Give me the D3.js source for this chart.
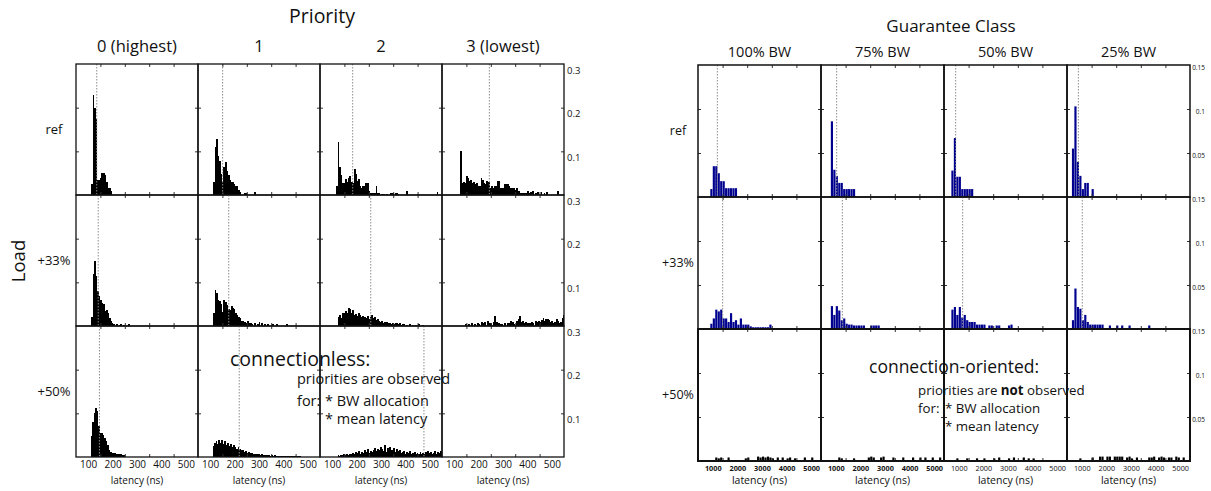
<!DOCTYPE html>
<html><head><meta charset="utf-8">
<script src="https://cdn.jsdelivr.net/npm/d3@7"></script>
<style>body{margin:0;background:#fff}svg{display:block;font-family:"Open Sans",sans-serif}</style>
</head><body><svg id="c" width="1211" height="491"></svg>
<script>
// ---------- labels ----------
const priorityLabels = ["0 (highest)", "1", "2", "3 (lowest)"];
const classLabels = ["100% BW", "75% BW", "50% BW", "25% BW"];
const loadLabels = ["ref", "+33%", "+50%"];
const latencyTicksCL = [100, 200, 300, 400, 500];
const minorTicksCL = [150, 250, 350, 450];
const yTicksCL = [0.1, 0.2, 0.3];
const latencyTicksCO = [1000, 2000, 3000, 4000, 5000];
const minorTicksCO = [1400, 2400, 3400, 4400];
const yTicksCO = [0.05, 0.1, 0.15];

// ---------- connectionless histograms: [bin start (ns), fraction], bin = 6 ns ----------
const cl_ref_p0 = [[112,0.025],[118,0.23],[124,0.2],[130,0.175],[136,0.035],[142,0.035],[148,0.04],[154,0.05],[160,0.05],[166,0.045],[172,0.03],[178,0.016],[184,0.016],[190,0.01]];
const cl_ref_p1 = [[112,0.03],[118,0.11],[124,0.128],[130,0.09],[136,0.078],[142,0.048],[148,0.03],[154,0.065],[160,0.075],[166,0.055],[172,0.045],[178,0.035],[184,0.03],[190,0.03],[196,0.025],[202,0.02],[208,0.02],[214,0.012],[220,0.008],[238,0.005],[244,0.005],[280,0.008]];
const cl_ref_p2 = [[116,0.02],[122,0.122],[128,0.065],[134,0.045],[140,0.028],[146,0.028],[152,0.036],[158,0.03],[164,0.04],[170,0.044],[176,0.03],[182,0.028],[188,0.059],[194,0.048],[200,0.032],[206,0.036],[212,0.021],[218,0.015],[224,0.021],[230,0.021],[236,0.028],[242,0.028],[248,0.009],[254,0.005],[260,0.005],[266,0.004],[272,0.005],[278,0.021],[284,0.005],[290,0.005],[302,0.003],[308,0.003],[320,0.003],[338,0.005],[344,0.004],[356,0.005],[362,0.005],[368,0.003],[404,0.009],[446,0.003],[528,0.007]];
const cl_ref_p3 = [[124,0.1],[130,0.028],[136,0.03],[142,0.028],[148,0.044],[154,0.04],[160,0.032],[166,0.035],[172,0.028],[178,0.03],[184,0.025],[190,0.028],[196,0.021],[202,0.02],[208,0.04],[214,0.035],[220,0.028],[226,0.025],[232,0.032],[238,0.03],[244,0.017],[250,0.02],[256,0.017],[262,0.021],[268,0.02],[274,0.032],[280,0.032],[286,0.017],[292,0.017],[298,0.015],[304,0.025],[310,0.025],[316,0.025],[322,0.02],[328,0.017],[334,0.015],[340,0.017],[346,0.012],[352,0.017],[358,0.009],[364,0.009],[370,0.005],[376,0.004],[382,0.005],[390,0.004],[400,0.009],[406,0.004],[412,0.006],[418,0.009],[430,0.005],[440,0.007],[454,0.007],[466,0.005],[478,0.007],[520,0.009]];
const cl_33_p0 = [[112,0.021],[118,0.118],[124,0.148],[130,0.114],[136,0.08],[142,0.068],[148,0.06],[154,0.053],[160,0.05],[166,0.035],[172,0.037],[178,0.03],[184,0.018],[190,0.012],[196,0.006],[202,0.004],[214,0.004],[226,0.003],[232,0.005],[244,0.003],[262,0.004]];
const cl_33_p1 = [[112,0.03],[118,0.083],[124,0.075],[130,0.06],[136,0.058],[142,0.05],[148,0.033],[154,0.06],[160,0.055],[166,0.048],[172,0.04],[178,0.036],[184,0.045],[190,0.042],[196,0.04],[202,0.03],[208,0.025],[214,0.02],[220,0.018],[226,0.012],[232,0.011],[238,0.01],[244,0.008],[250,0.011],[256,0.006],[262,0.008],[268,0.004],[280,0.007],[292,0.005],[298,0.009],[310,0.006],[322,0.004],[334,0.005],[352,0.004],[370,0.005],[412,0.005]];
const cl_33_p2 = [[122,0.021],[128,0.025],[134,0.018],[140,0.03],[146,0.029],[152,0.035],[158,0.03],[164,0.041],[170,0.038],[176,0.03],[182,0.036],[188,0.025],[194,0.028],[200,0.022],[206,0.029],[212,0.026],[218,0.02],[224,0.024],[230,0.02],[236,0.018],[242,0.022],[248,0.016],[254,0.02],[260,0.025],[266,0.018],[272,0.02],[278,0.013],[284,0.016],[290,0.012],[296,0.01],[302,0.012],[308,0.008],[314,0.01],[320,0.009],[326,0.007],[332,0.008],[338,0.005],[344,0.006],[350,0.004],[356,0.008],[362,0.006],[368,0.005],[374,0.007],[380,0.003],[386,0.004],[392,0.005],[404,0.003],[416,0.004],[428,0.002],[440,0.003],[452,0.004],[470,0.003]];
const cl_33_p3 = [[144,0.005],[156,0.004],[168,0.006],[180,0.005],[192,0.008],[198,0.005],[210,0.009],[216,0.006],[222,0.01],[234,0.012],[240,0.006],[246,0.008],[258,0.01],[264,0.024],[270,0.01],[276,0.008],[282,0.006],[288,0.004],[294,0.005],[306,0.006],[318,0.008],[324,0.006],[330,0.012],[336,0.01],[342,0.005],[354,0.012],[360,0.015],[366,0.024],[372,0.01],[378,0.012],[384,0.006],[390,0.01],[396,0.008],[402,0.006],[408,0.008],[414,0.01],[420,0.008],[432,0.012],[438,0.009],[444,0.012],[450,0.01],[456,0.014],[462,0.018],[468,0.012],[474,0.016],[480,0.015],[486,0.014],[492,0.01],[498,0.012],[504,0.008],[510,0.01],[516,0.015],[522,0.012],[528,0.008],[534,0.01],[540,0.018],[546,0.025]];
const cl_50_p0 = [[110,0.047],[116,0.08],[122,0.1],[128,0.112],[134,0.105],[140,0.07],[146,0.056],[152,0.055],[158,0.05],[164,0.044],[170,0.036],[176,0.028],[182,0.016],[188,0.012],[194,0.01],[200,0.01],[206,0.01],[212,0.008],[218,0.006],[224,0.006],[230,0.006],[236,0.005],[242,0.005]];
const cl_50_p1 = [[110,0.025],[116,0.032],[122,0.036],[128,0.03],[134,0.04],[140,0.033],[146,0.038],[152,0.03],[158,0.036],[164,0.028],[170,0.032],[176,0.026],[182,0.03],[188,0.024],[194,0.028],[200,0.022],[206,0.018],[212,0.024],[218,0.018],[224,0.016],[230,0.015],[236,0.012],[242,0.014],[248,0.01],[254,0.012],[260,0.009],[266,0.01],[272,0.008],[278,0.007],[284,0.008],[290,0.006],[296,0.007],[302,0.005],[308,0.006],[314,0.005],[320,0.005],[326,0.004],[332,0.005],[338,0.004],[344,0.003],[350,0.004],[356,0.003],[362,0.004],[368,0.003],[374,0.003],[380,0.002],[386,0.003],[392,0.002],[398,0.003],[404,0.002],[410,0.003],[416,0.002],[422,0.002],[428,0.003],[434,0.002],[440,0.002],[446,0.002],[452,0.002],[458,0.002],[464,0.002]];
const cl_50_p2 = [[122,0.004],[128,0.003],[134,0.005],[140,0.004],[146,0.006],[152,0.005],[158,0.007],[164,0.005],[170,0.006],[176,0.008],[182,0.01],[188,0.006],[194,0.012],[200,0.009],[206,0.014],[212,0.008],[218,0.012],[224,0.01],[230,0.016],[236,0.012],[242,0.018],[248,0.01],[254,0.014],[260,0.012],[266,0.016],[272,0.02],[278,0.013],[284,0.018],[290,0.015],[296,0.022],[302,0.018],[308,0.014],[314,0.028],[320,0.012],[326,0.02],[332,0.022],[338,0.015],[344,0.016],[350,0.02],[356,0.012],[362,0.018],[368,0.014],[374,0.016],[380,0.01],[386,0.012],[392,0.014],[398,0.008],[404,0.012],[410,0.01],[416,0.014],[422,0.008],[428,0.01],[434,0.012],[440,0.008],[446,0.01],[452,0.006],[458,0.012],[464,0.008],[470,0.01],[476,0.006],[482,0.012],[488,0.014],[494,0.01],[500,0.012],[506,0.008],[512,0.01],[518,0.014],[524,0.008],[530,0.012],[536,0.01],[542,0.014]];
const cl_50_p3 = [];
const clMeans = [[135, 151, 184, 244], [141, 176, 258, null], [146, 219, 476, null]];

// ---------- connection-oriented histograms: [bin start (ns), fraction], bin = 100 ns ----------
const co_ref_c0 = [[900,0.009],[1000,0.035],[1100,0.035],[1200,0.027],[1300,0.018],[1400,0.018],[1500,0.01],[1600,0.01],[1700,0.01],[1800,0.01],[1900,0.01]];
const co_ref_c1 = [[800,0.086],[900,0.031],[1000,0.024],[1100,0.016],[1200,0.016],[1300,0.009],[1400,0.009],[1500,0.009],[1600,0.009],[1700,0.009]];
const co_ref_c2 = [[700,0.03],[800,0.067],[900,0.023],[1000,0.023],[1100,0.009],[1200,0.009],[1300,0.009],[1400,0.009],[1500,0.009]];
const co_ref_c3 = [[600,0.055],[700,0.103],[800,0.04],[900,0.024],[1000,0.009],[1100,0.016],[1200,0.016],[1400,0.009]];
const co_33_c0 = [[900,0.006],[1000,0.012],[1100,0.022],[1200,0.02],[1300,0.022],[1400,0.012],[1500,0.012],[1600,0.008],[1700,0.018],[1800,0.008],[1900,0.01],[2000,0.005],[2100,0.012],[2200,0.005],[2300,0.005],[2400,0.005],[2500,0.003],[2600,0.002],[2700,0.002],[2800,0.002],[2900,0.002],[3000,0.002],[3100,0.002],[3200,0.002],[3300,0.005]];
const co_33_c1 = [[800,0.026],[900,0.016],[1000,0.026],[1100,0.021],[1200,0.01],[1300,0.012],[1400,0.006],[1500,0.005],[1600,0.005],[1700,0.004],[1800,0.004],[1900,0.004],[2000,0.004],[2100,0.004],[2400,0.004],[2500,0.004],[2600,0.004],[2700,0.004]];
const co_33_c2 = [[700,0.022],[800,0.025],[900,0.016],[1000,0.025],[1100,0.013],[1200,0.016],[1300,0.01],[1400,0.008],[1500,0.008],[1600,0.008],[1700,0.005],[1800,0.005],[1900,0.005],[2000,0.005],[2200,0.004],[2300,0.004],[2500,0.004],[2600,0.004],[3000,0.004],[3100,0.005]];
const co_33_c3 = [[600,0.01],[700,0.046],[800,0.025],[900,0.023],[1000,0.01],[1100,0.016],[1200,0.008],[1300,0.005],[1400,0.005],[1500,0.005],[1600,0.005],[1700,0.005],[1800,0.005],[2100,0.004],[2400,0.004],[2600,0.004],[2900,0.004],[3700,0.004]];
const co_50_c0 = [[1100,0.004],[1200,0.003],[1300,0.004],[1600,0.004],[2300,0.003],[2400,0.004],[2800,0.005],[2900,0.004],[3000,0.005],[3100,0.004],[3200,0.005],[3300,0.004],[3400,0.003],[3600,0.004],[3800,0.004],[4000,0.003],[4100,0.004],[4300,0.003],[4700,0.004],[5000,0.004]];
const co_50_c1 = [[1100,0.004],[1200,0.003],[1700,0.003],[2300,0.004],[2400,0.005],[2500,0.004],[2800,0.004],[2900,0.005],[3300,0.004],[3700,0.004],[4100,0.004],[4400,0.004],[4600,0.004],[4900,0.004],[5200,0.004]];
const co_50_c2 = [[900,0.003],[1300,0.003],[1700,0.003],[2000,0.003],[2400,0.003],[2600,0.004],[3000,0.003],[3200,0.004],[3600,0.004],[3800,0.003],[4000,0.003]];
const co_50_c3 = [[900,0.003],[1400,0.004],[1700,0.005],[1800,0.005],[2000,0.005],[2100,0.005],[2300,0.005],[2400,0.005],[2500,0.005],[2600,0.005],[2800,0.004],[2900,0.005],[3000,0.003],[3200,0.004],[3700,0.004],[3800,0.004],[3900,0.005],[4100,0.004],[4200,0.005],[4300,0.004],[4500,0.004],[4600,0.004],[4800,0.005],[4900,0.004],[5100,0.004]];
const coMeans = [[1186, 1037, 875, 862], [1403, 1267, 1159, 1021], [null, null, null, null]];

// ---------- drawing ----------
const svg = d3.select("#c");
const defs = svg.append("defs");
let clipId = 0;

function drawGrid(cfg) {
  const g = svg.append("g");
  cfg.data.forEach((row, i) => row.forEach((bins, j) => {
    const px = cfg.x0 + j * cfg.colW, py = cfg.y0 + i * cfg.rowH;
    const x = d3.scaleLinear().domain(cfg.xDomain).range([px, px + cfg.colW]);
    const y = d3.scaleLinear().domain(cfg.yDomain).range([py + cfg.rowH, py]);
    const id = "clip" + (clipId++);
    defs.append("clipPath").attr("id", id).append("rect")
      .attr("x", px).attr("y", py).attr("width", cfg.colW).attr("height", cfg.rowH);
    const p = g.append("g");
    const inner = p.append("g").attr("clip-path", `url(#${id})`);
    const bw = x(cfg.xDomain[0] + cfg.binW) - x(cfg.xDomain[0]);
    inner.selectAll("rect").data(bins).join("rect")
      .attr("x", d => x(d[0])).attr("width", Math.max(bw + cfg.barPad, 0.8))
      .attr("y", d => y(d[1])).attr("height", d => y(0) - y(d[1]))
      .attr("fill", cfg.barColor(i))
      .attr("shape-rendering", cfg.crisp ? "crispEdges" : null);
    const m = cfg.means[i][j];
    if (m != null) {
      inner.append("line").attr("x1", x(m)).attr("x2", x(m))
        .attr("y1", py).attr("y2", py + cfg.rowH)
        .attr("stroke", "#8c8c8c").attr("stroke-width", 1).attr("stroke-dasharray", "1.5,1.5");
    }
    // inward ticks on all four sides
    const tk = (axis, tr) => {
      const a = p.append("g").attr("transform", tr).call(axis);
      a.select(".domain").remove();
      a.selectAll("line").attr("stroke", "#333");
    };
    tk(d3.axisTop(x).tickValues(cfg.minorTicks).tickSize(-3).tickFormat(""), `translate(0,${py})`);
    tk(d3.axisBottom(x).tickValues(cfg.minorTicks).tickSize(-3).tickFormat(""), `translate(0,${py + cfg.rowH})`);
    const yt = cfg.yTicks.filter(v => v < cfg.yDomain[1]);
    tk(d3.axisLeft(y).tickValues(yt).tickSize(-3).tickFormat(""), `translate(${px},0)`);
    tk(d3.axisRight(y).tickValues(yt).tickSize(-3).tickFormat(""), `translate(${px + cfg.colW},0)`);
    p.append("rect").attr("x", px).attr("y", py).attr("width", cfg.colW).attr("height", cfg.rowH)
      .attr("fill", "none").attr("stroke", "#111").attr("stroke-width", cfg.border(i));
    // bottom row: tick labels + axis title
    if (i === cfg.data.length - 1) {
      const ax = p.append("g").attr("transform", `translate(0,${py + cfg.rowH})`)
        .call(d3.axisBottom(x).tickValues(cfg.xTicks).tickSize(0).tickFormat(d3.format("d")));
      ax.select(".domain").remove();
      ax.selectAll("text").attr("dy", null).attr("y", cfg.xLabelY)
        .attr("font-family", '"Open Sans", sans-serif')
        .attr("font-size", cfg.xLabelSize).attr("font-weight", cfg.xLabelWeight(j)).attr("fill", "#111");
      p.append("text").attr("x", px + cfg.colW / 2).attr("y", cfg.titleY)
        .attr("text-anchor", "middle").attr("font-size", cfg.xTitleSize).attr("fill", "#111")
        .text("latency (ns)");
    }
    // right column: y tick labels
    if (j === row.length - 1) {
      const ay = p.append("g").attr("transform", `translate(${cfg.yLabelX},0)`)
        .call(d3.axisRight(y).tickValues(cfg.yTicks).tickSize(0).tickPadding(0).tickFormat(d => String(+d.toFixed(2))));
      ay.select(".domain").remove();
      ay.selectAll("text").attr("x", 0).attr("dy", cfg.yLabelDy)
        .attr("text-anchor", cfg.yLabelAnchor)
        .attr("font-family", '"Open Sans", sans-serif')
        .attr("font-size", cfg.yLabelSize).attr("fill", "#111");
    }
  }));
  // column headers
  cfg.colLabels.forEach((t, j) => {
    g.append("text").attr("x", cfg.x0 + j * cfg.colW + cfg.colW / 2).attr("y", cfg.colLabelY)
      .attr("text-anchor", "middle").attr("font-size", cfg.colLabelSize).attr("fill", "#111").text(t);
  });
  // row headers
  cfg.rowLabels.forEach((t, i) => {
    g.append("text").attr("x", cfg.rowLabelX).attr("y", cfg.y0 + i * cfg.rowH + cfg.rowH / 2)
      .attr("dy", "0.35em").attr("text-anchor", "middle")
      .attr("font-size", cfg.rowLabelSize).attr("fill", "#111").text(t);
  });
}

drawGrid({
  x0: 76, y0: 64, colW: 122, rowH: 131,
  xDomain: [50, 550], yDomain: [0, 0.3], binW: 6, barPad: 0.4, crisp: true,
  data: [[cl_ref_p0, cl_ref_p1, cl_ref_p2, cl_ref_p3], [cl_33_p0, cl_33_p1, cl_33_p2, cl_33_p3], [cl_50_p0, cl_50_p1, cl_50_p2, cl_50_p3]],
  means: clMeans, barColor: () => "#000", border: () => 1.3,
  xTicks: latencyTicksCL, minorTicks: minorTicksCL, yTicks: yTicksCL,
  xLabelY: 11, xLabelSize: 10, xLabelWeight: () => "normal", titleY: 484, xTitleSize: 10,
  yLabelX: 567, yLabelDy: "0.95em", yLabelAnchor: "start", yLabelSize: 9.5,
  colLabels: priorityLabels, colLabelY: 52, colLabelSize: 16.5,
  rowLabels: loadLabels, rowLabelX: 54, rowLabelSize: 13
});

drawGrid({
  x0: 698, y0: 65, colW: 123, rowH: 132,
  xDomain: [400, 5400], yDomain: [0, 0.15], binW: 100, barPad: -0.3, crisp: false,
  data: [[co_ref_c0, co_ref_c1, co_ref_c2, co_ref_c3], [co_33_c0, co_33_c1, co_33_c2, co_33_c3], [co_50_c0, co_50_c1, co_50_c2, co_50_c3]],
  means: coMeans, barColor: i => (i === 2 ? "#000" : "#00008e"), border: i => (i === 2 ? 2 : 1.5),
  xTicks: latencyTicksCO, minorTicks: minorTicksCO, yTicks: yTicksCO,
  xLabelY: 10, xLabelSize: 7.3, xLabelWeight: j => (j < 2 ? "bold" : "normal"), titleY: 484, xTitleSize: 10.5,
  yLabelX: 1205, yLabelDy: "0.75em", yLabelAnchor: "end", yLabelSize: 6.5,
  colLabels: classLabels, colLabelY: 57, colLabelSize: 14.5,
  rowLabels: loadLabels, rowLabelX: 678, rowLabelSize: 12.5
});

// titles
svg.append("text").attr("x", 322).attr("y", 23).attr("text-anchor", "middle")
  .attr("font-size", 19.5).attr("fill", "#111").text("Priority");
svg.append("text").attr("x", 951).attr("y", 32).attr("text-anchor", "middle")
  .attr("font-size", 17).attr("fill", "#111").text("Guarantee Class");
svg.append("text").attr("transform", "translate(25,261) rotate(-90)").attr("text-anchor", "middle")
  .attr("font-size", 18.5).attr("fill", "#111").text("Load");

// annotations
function note(x, y, size, parts) {
  const t = svg.append("text").attr("x", x).attr("y", y).attr("font-size", size).attr("fill", "#111");
  parts.forEach(p => t.append("tspan").attr("font-weight", p[1] ? "bold" : "normal").text(p[0]));
}
note(230, 366, 19.5, [["connectionless:"]]);
note(297, 384, 14.5, [["priorities are observed"]]);
note(297, 406, 14.5, [["for:"]]);
note(325, 406, 14.5, [["* BW allocation"]]);
note(325, 424, 14.5, [["* mean latency"]]);
note(869, 373, 17.5, [["connection-oriented:"]]);
note(918, 395, 13.3, [["priorities are "], ["not", true], [" observed"]]);
note(918, 413, 13.3, [["for:"]]);
note(945, 413, 13.3, [["* BW allocation"]]);
note(945, 431, 13.3, [["* mean latency"]]);
</script></body></html>
